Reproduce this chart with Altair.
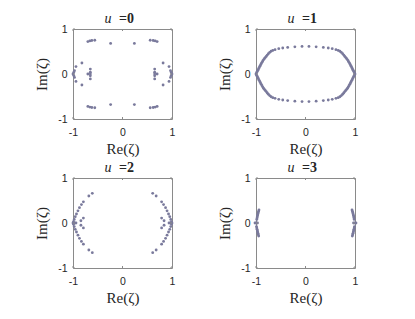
import altair as alt
import pandas as pd

# ---------------- data ----------------
u_values = [0, 1, 2, 3]
tick_values = [-1, 0, 1]

# u = 0
u0_re = [-0.70, -0.66, -0.62, -0.56, -0.24, 0.24, 0.56, 0.62, 0.66, 0.70,
         -0.70, -0.66, -0.62, -0.56, -0.24, 0.24, 0.56, 0.62, 0.66, 0.70,
         -0.82, -0.94, -0.97, -0.985, -1.0, -0.985, -0.97, -0.94, -0.82,
         -0.65, -0.65, -0.70, -0.65, -0.65, -0.65,
         0.82, 0.94, 0.97, 0.985, 1.0, 0.985, 0.97, 0.94, 0.82,
         0.65, 0.65, 0.70, 0.65, 0.65, 0.65]
u0_im = [0.72, 0.735, 0.745, 0.75, 0.68, 0.68, 0.75, 0.745, 0.735, 0.72,
         -0.72, -0.735, -0.745, -0.75, -0.68, -0.68, -0.75, -0.745, -0.735, -0.72,
         0.245, 0.165, 0.075, 0.035, 0.0, -0.035, -0.075, -0.165, -0.245,
         0.11, 0.04, 0.0, 0.0, -0.04, -0.11,
         0.245, 0.165, 0.075, 0.035, 0.0, -0.035, -0.075, -0.165, -0.245,
         0.11, 0.04, 0.0, 0.0, -0.04, -0.11]

# u = 1
u1_re = [-1.0, -0.988, -0.975, -0.962, -0.949, -0.936, -0.922, -0.908, -0.894, -0.879,
         -0.864, -0.848, -0.831, -0.813, -0.794, -0.773, -0.75, -0.724, -0.695, -0.66,
         -0.615, -0.54, -0.46, -0.36, -0.215, -0.07,
         0.07, 0.215, 0.36, 0.46, 0.54, 0.615, 0.66, 0.695, 0.724, 0.75,
         0.773, 0.794, 0.813, 0.831, 0.848, 0.864, 0.879, 0.894, 0.908, 0.922,
         0.936, 0.949, 0.962, 0.975, 0.988, 1.0,
         -0.988, -0.975, -0.962, -0.949, -0.936, -0.922, -0.908, -0.894, -0.879,
         -0.864, -0.848, -0.831, -0.813, -0.794, -0.773, -0.75, -0.724, -0.695, -0.66,
         -0.615, -0.54, -0.46, -0.36, -0.215, -0.07,
         0.07, 0.215, 0.36, 0.46, 0.54, 0.615, 0.66, 0.695, 0.724, 0.75,
         0.773, 0.794, 0.813, 0.831, 0.848, 0.864, 0.879, 0.894, 0.908, 0.922,
         0.936, 0.949, 0.962, 0.975, 0.988]
u1_im = [0.0, 0.027, 0.055, 0.083, 0.111, 0.14, 0.172, 0.20, 0.23, 0.26,
         0.29, 0.315, 0.34, 0.365, 0.39, 0.42, 0.45, 0.48, 0.505, 0.525,
         0.54, 0.562, 0.577, 0.59, 0.604, 0.612,
         0.612, 0.604, 0.59, 0.577, 0.562, 0.54, 0.525, 0.505, 0.48, 0.45,
         0.42, 0.39, 0.365, 0.34, 0.315, 0.29, 0.26, 0.23, 0.20, 0.172,
         0.14, 0.111, 0.083, 0.055, 0.027, 0.0,
         -0.027, -0.055, -0.083, -0.111, -0.14, -0.172, -0.20, -0.23, -0.26,
         -0.29, -0.315, -0.34, -0.365, -0.39, -0.42, -0.45, -0.48, -0.505, -0.525,
         -0.54, -0.562, -0.577, -0.59, -0.604, -0.612,
         -0.612, -0.604, -0.59, -0.577, -0.562, -0.54, -0.525, -0.505, -0.48, -0.45,
         -0.42, -0.39, -0.365, -0.34, -0.315, -0.29, -0.26, -0.23, -0.20, -0.172,
         -0.14, -0.111, -0.083, -0.055, -0.027]

# u = 2
u2_re = [-0.61, -0.68, -0.79, -0.83, -0.87, -0.90, -0.93, -0.955, -0.975, -0.99,
         -1.0, -0.97, -0.94,
         -0.79, -0.84, -0.84, -0.79,
         -0.99, -0.975, -0.955, -0.93, -0.90, -0.87, -0.83, -0.79, -0.68, -0.61,
         0.61, 0.68, 0.79, 0.83, 0.87, 0.90, 0.93, 0.955, 0.975, 0.99,
         1.0, 0.97, 0.94,
         0.79, 0.84, 0.84, 0.79,
         0.99, 0.975, 0.955, 0.93, 0.90, 0.87, 0.83, 0.79, 0.68, 0.61]
u2_im = [0.66, 0.60, 0.47, 0.41, 0.34, 0.27, 0.20, 0.14, 0.08, 0.03,
         0.0, 0.0, 0.0,
         0.11, 0.05, -0.05, -0.11,
         -0.03, -0.08, -0.14, -0.20, -0.27, -0.34, -0.41, -0.47, -0.60, -0.66,
         0.66, 0.60, 0.47, 0.41, 0.34, 0.27, 0.20, 0.14, 0.08, 0.03,
         0.0, 0.0, 0.0,
         0.11, 0.05, -0.05, -0.11,
         -0.03, -0.08, -0.14, -0.20, -0.27, -0.34, -0.41, -0.47, -0.60, -0.66]

# u = 3
u3_re = [-0.94, -0.948, -0.955, -0.962, -0.968, -0.974, -0.979, -0.984,
         -1.02, -0.995, -0.97,
         -0.99, -0.984, -0.978, -0.972, -0.966, -0.96, -0.953, -0.946,
         0.94, 0.948, 0.955, 0.962, 0.968, 0.974, 0.979, 0.984,
         1.02, 0.995, 0.97,
         0.99, 0.984, 0.978, 0.972, 0.966, 0.96, 0.953, 0.946]
u3_im = [0.29, 0.26, 0.23, 0.20, 0.17, 0.14, 0.11, 0.08,
         0.0, 0.0, 0.0,
         -0.08, -0.11, -0.14, -0.17, -0.20, -0.23, -0.26, -0.29,
         0.29, 0.26, 0.23, 0.20, 0.17, 0.14, 0.11, 0.08,
         0.0, 0.0, 0.0,
         -0.08, -0.11, -0.14, -0.17, -0.20, -0.23, -0.26, -0.29]

series = [(u0_re, u0_im), (u1_re, u1_im), (u2_re, u2_im), (u3_re, u3_im)]

# ---------------- styling ----------------
W, H = 99, 90
DOT = "#7a7a9c"
FRAME = "#8a8a8a"
TXT = "#262626"
SX, SY = 41, 3


def panel(u, re, im):
    df = pd.DataFrame({"re": re, "im": im})
    xs = alt.Scale(domain=[-1, 1], nice=False, zero=False)
    ys = alt.Scale(domain=[-1, 1], nice=False, zero=False)
    common = dict(values=tick_values, labelExpr="'' + datum.value", domain=False,
                  ticks=False, tickSize=0, grid=False, labelFont="Liberation Sans",
                  labelFontSize=10.5, labelColor=TXT, labelFlush=False,
                  titleFont="Liberation Serif", titleFontSize=15,
                  titleFontWeight="normal", titleColor=TXT)
    pts = alt.Chart(df).mark_circle(size=8, color=DOT, opacity=1).encode(
        x=alt.X("re:Q", scale=xs,
                axis=alt.Axis(title="Re(ζ)", labelPadding=8, titlePadding=4, **common)),
        y=alt.Y("im:Q", scale=ys,
                axis=alt.Axis(title="Im(ζ)", labelPadding=6, titlePadding=8, **common)),
    )
    tdf = pd.DataFrame({"t": tick_values})
    xt_b = alt.Chart(tdf).mark_rule(color=FRAME).encode(
        x=alt.X("t:Q", scale=xs), y=alt.value(H), y2=alt.value(H - 2))
    xt_t = alt.Chart(tdf).mark_rule(color=FRAME).encode(
        x=alt.X("t:Q", scale=xs), y=alt.value(0), y2=alt.value(2))
    yt_l = alt.Chart(tdf).mark_rule(color=FRAME).encode(
        y=alt.Y("t:Q", scale=ys), x=alt.value(0), x2=alt.value(2))
    yt_r = alt.Chart(tdf).mark_rule(color=FRAME).encode(
        y=alt.Y("t:Q", scale=ys), x=alt.value(W), x2=alt.value(W - 2))
    t_u = alt.Chart(pd.DataFrame({"s": ["u"]})).mark_text(
        font="Liberation Serif", fontSize=14, fontStyle="italic", color=TXT,
        align="center", baseline="alphabetic").encode(
        text="s:N", x=alt.value(35), y=alt.value(-6))
    t_eq = alt.Chart(pd.DataFrame({"s": ["=" + str(u)]})).mark_text(
        font="Liberation Serif", fontSize=14, fontWeight="bold", color=TXT,
        align="left", baseline="alphabetic").encode(
        text="s:N", x=alt.value(46), y=alt.value(-6))
    return alt.layer(pts, xt_b, xt_t, yt_l, yt_r, t_u, t_eq).properties(width=W, height=H)


p = [panel(u, re, im) for u, (re, im) in zip(u_values, series)]
chart = alt.vconcat(
    alt.hconcat(p[0], p[1], spacing=SX),
    alt.hconcat(p[2], p[3], spacing=SX),
    spacing=SY,
).properties(
    padding={"left": 26, "top": 3, "right": 0, "bottom": 0}
).configure_view(stroke=FRAME, strokeWidth=1)

chart.save("out.html", embed_options={"renderer": "svg", "actions": False})
